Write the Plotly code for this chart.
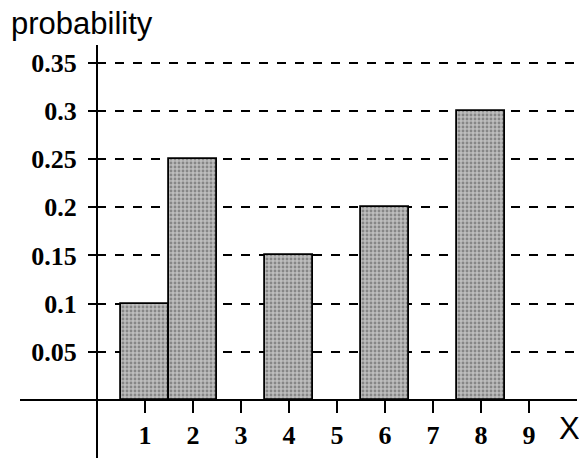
import plotly.graph_objects as go

# Data
x_values = [1, 2, 4, 6, 8]
probabilities = [0.10, 0.25, 0.15, 0.20, 0.30]
x_ticks = [1, 2, 3, 4, 5, 6, 7, 8, 9]
y_ticks = [0.05, 0.10, 0.15, 0.20, 0.25, 0.30, 0.35]
y_tick_labels = ["0.05", "0.1", "0.15", "0.2", "0.25", "0.3", "0.35"]

W, H = 579, 458
L, R, T, B = 97, 2, 45, 58
pw, ph = W - L - R, H - T - B

fig = go.Figure()
fig.add_trace(go.Bar(
    x=x_values, y=probabilities, width=0.98,
    marker=dict(
        color="#a8a8a8",
        line=dict(color="black", width=1.8),
        pattern=dict(shape=".", bgcolor="#bdbdbd", fgcolor="#505050", size=4, solidity=0.4),
    ),
    showlegend=False,
))

fig.update_layout(
    width=W, height=H,
    margin=dict(l=L, r=R, t=T, b=B),
    paper_bgcolor="white", plot_bgcolor="white",
    bargap=0,
    xaxis=dict(
        range=[0, 10], tickvals=x_ticks, ticktext=[str(v) for v in x_ticks],
        showgrid=False, zeroline=False, showline=False,
        ticks="outside", ticklen=12, tickwidth=1.5, tickcolor="black",
        tickfont=dict(family="Liberation Serif", size=26, color="black", weight="bold"),
    ),
    yaxis=dict(
        range=[0, 0.3683], tickvals=y_ticks, ticktext=y_tick_labels,
        showgrid=True, gridcolor="black", gridwidth=1.5, griddash="dash",
        zeroline=False, showline=False,
        ticks="outside", ticklen=8, tickwidth=1.5, tickcolor="black",
        ticklabelstandoff=6,
        tickfont=dict(family="Liberation Serif", size=26, color="black", weight="bold"),
    ),
    shapes=[
        dict(type="line", xref="paper", yref="paper",
             x0=(20 - L) / pw, x1=1, y0=0, y1=0,
             line=dict(color="black", width=2)),
        dict(type="line", xref="paper", yref="paper",
             x0=0, x1=0, y0=-(H - T - ph) / ph, y1=1,
             line=dict(color="black", width=2)),
    ],
    annotations=[
        dict(text="probability", xref="paper", yref="paper",
             x=(9 - L) / pw, y=1 + (T - 23) / ph, xanchor="left", yanchor="middle",
             showarrow=False, font=dict(family="Liberation Sans", size=31, color="black")),
        dict(text="X", xref="paper", yref="paper",
             x=(569 - L) / pw, y=-(429 - T - ph) / ph, xanchor="center", yanchor="middle",
             showarrow=False, font=dict(family="Liberation Sans", size=31, color="black")),
    ],
)

fig.write_html("out.html", config={"displayModeBar": False},
               post_script="document.body.style.margin='0';")
